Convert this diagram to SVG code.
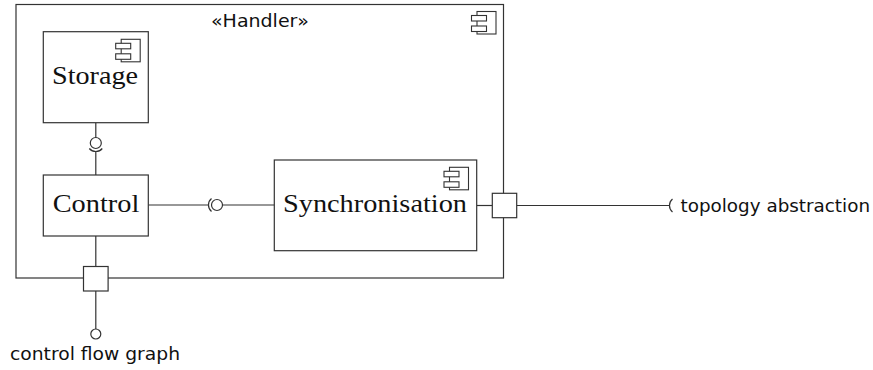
<svg xmlns="http://www.w3.org/2000/svg" xmlns:xlink="http://www.w3.org/1999/xlink" width="873" height="370" viewBox="0 0 873 370">
<style>
.box{fill:#fff;stroke:#333;stroke-width:1.2}
.ln{fill:none;stroke:#333;stroke-width:1.2}
.serif{font-family:"Liberation Serif","DejaVu Serif",serif;font-size:25px;fill:#111}
.sans{font-family:"DejaVu Sans","Liberation Sans",sans-serif;font-size:17px;fill:#111}
</style>
<defs>
<symbol id="comp" overflow="visible">
<rect x="5.5" y="0" width="19" height="22.5" fill="#fff" stroke="#333" stroke-width="1.1"/>
<rect x="0" y="4" width="15" height="5.5" fill="#fff" stroke="#333" stroke-width="1.1"/>
<rect x="0" y="14.5" width="15" height="5.5" fill="#fff" stroke="#333" stroke-width="1.1"/>
</symbol>
</defs>
<g id="handler">
<rect class="box" x="16" y="4.5" width="487.5" height="273.5"/>
<text class="sans" x="260" y="26.5" text-anchor="middle" textLength="98" lengthAdjust="spacingAndGlyphs">«Handler»</text>
<use xlink:href="#comp" x="471.5" y="11.5"/>
</g>
<g id="connectors">
<line class="ln" x1="95.8" y1="122.7" x2="95.8" y2="137.5"/>
<line class="ln" x1="95.8" y1="151.5" x2="95.8" y2="175"/>
<line class="ln" x1="148.3" y1="205" x2="208.5" y2="205"/>
<line class="ln" x1="222.5" y1="205" x2="274.3" y2="205"/>
<line class="ln" x1="476.7" y1="205.5" x2="492.3" y2="205.5"/>
<line class="ln" x1="516.7" y1="205.5" x2="669.5" y2="205.5"/>
<line class="ln" x1="95.8" y1="236" x2="95.8" y2="266.5"/>
<line class="ln" x1="95.8" y1="291" x2="95.8" y2="329"/>
</g>
<g id="storage">
<rect class="box" x="43.3" y="31.7" width="105" height="91"/>
<use xlink:href="#comp" x="115.7" y="39.3"/>
<text class="serif" x="95" y="84" text-anchor="middle" textLength="86" lengthAdjust="spacingAndGlyphs">Storage</text>
</g>
<g id="storage-interface">
<circle class="ln" cx="95.8" cy="143" r="5.5"/>
<path class="ln" d="M89.3 148.5 A8.5 8.5 0 0 0 102.3 148.5"/>
</g>
<g id="control">
<rect class="box" x="43.3" y="175" width="105" height="61"/>
<text class="serif" x="96" y="212" text-anchor="middle" textLength="86.6" lengthAdjust="spacingAndGlyphs">Control</text>
</g>
<g id="sync-interface">
<circle class="ln" cx="217" cy="205" r="5.5"/>
<path class="ln" d="M211.5 198.5 A8.5 8.5 0 0 0 211.5 211.5"/>
</g>
<g id="synchronisation">
<rect class="box" x="274.3" y="160" width="202.4" height="90.7"/>
<use xlink:href="#comp" x="444" y="167.3"/>
<text class="serif" x="375" y="212" text-anchor="middle" textLength="184" lengthAdjust="spacingAndGlyphs">Synchronisation</text>
</g>
<g id="port-right">
<rect class="box" x="492.3" y="193.3" width="24.4" height="24.4"/>
</g>
<g id="port-bottom">
<rect class="box" x="83.5" y="266.5" width="24.6" height="24.5"/>
</g>
<g id="topology-abstraction">
<path class="ln" d="M672.5 199 A8.5 8.5 0 0 0 672.5 212"/>
<text class="sans" x="680.5" y="212" textLength="189.5" lengthAdjust="spacingAndGlyphs">topology abstraction</text>
</g>
<g id="control-flow-graph">
<circle class="ln" cx="95.8" cy="334" r="5"/>
<text class="sans" x="95" y="360" text-anchor="middle" textLength="170" lengthAdjust="spacingAndGlyphs">control flow graph</text>
</g>
</svg>
